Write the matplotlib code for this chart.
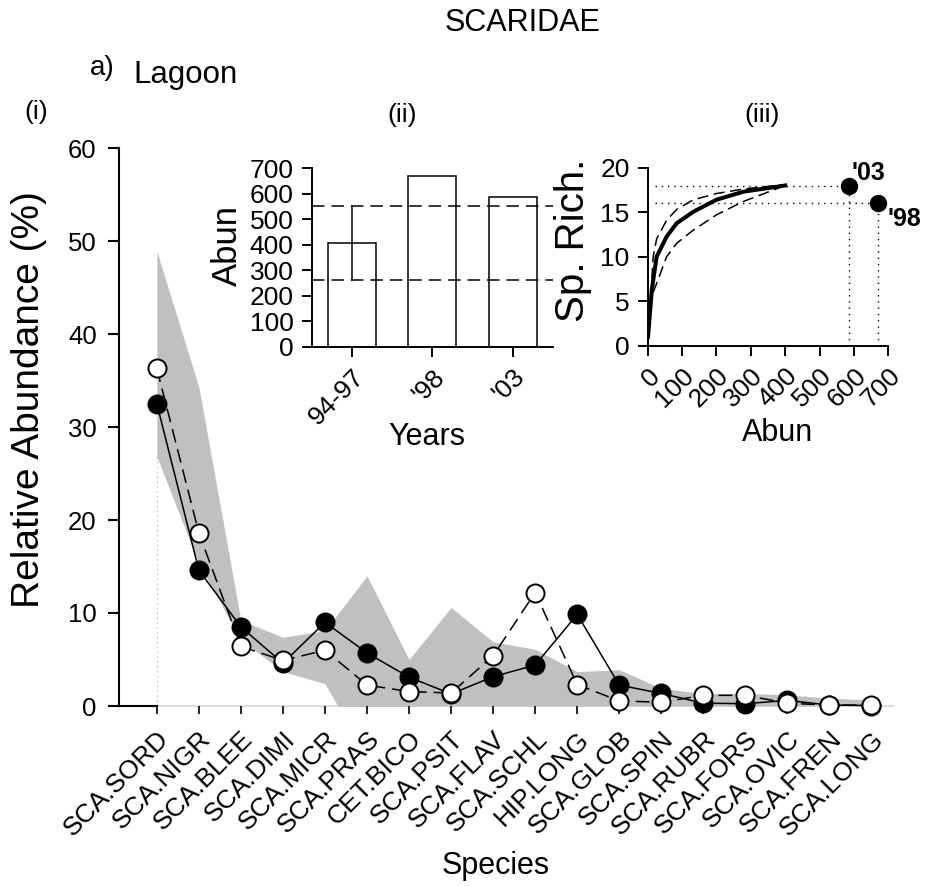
import matplotlib
matplotlib.use('Agg')
import matplotlib.pyplot as plt
import numpy as np

plt.rcParams['font.family'] = ['Liberation Sans', 'DejaVu Sans']
plt.rcParams['lines.scale_dashes'] = False

# ---------------- data ----------------
species = ['SCA.SORD', 'SCA.NIGR', 'SCA.BLEE', 'SCA.DIMI', 'SCA.MICR', 'SCA.PRAS',
           'CET.BICO', 'SCA.PSIT', 'SCA.FLAV', 'SCA.SCHL', 'HIP.LONG', 'SCA.GLOB',
           'SCA.SPIN', 'SCA.RUBR', 'SCA.FORS', 'SCA.OVIC', 'SCA.FREN', 'SCA.LONG']
series_filled = [32.5, 14.6, 8.5, 4.6, 9.0, 5.7, 3.1, 1.3, 3.15, 4.4, 9.85, 2.25,
                 1.35, 0.3, 0.25, 0.6, 0.1, 0.05]
series_open = [36.3, 18.6, 6.4, 4.9, 6.0, 2.25, 1.55, 1.4, 5.4, 12.2, 2.3, 0.55,
               0.4, 1.15, 1.15, 0.3, 0.1, 0.1]
band_upper = [48.9, 34.3, 9.2, 7.4, 8.1, 14.0, 5.0, 10.6, 6.9, 6.1, 3.7, 3.9,
              1.9, 1.35, 1.35, 1.2, 0.85, 0.65]
band_lower = [26.8, 15.3, 7.1, 3.7, 2.4, -5.5, 0, 0, 0, 0, 0, 0,
              0, 0, 0, 0, 0, 0]

years = ['94-97', "'98", "'03"]
year_abun = [405, 670, 586]
ref_low = 262
ref_high = 553

rare_abun = [1, 12, 26, 55, 84, 133, 200, 278, 400]
rare_mean = [1.0, 6.3, 10.0, 12.25, 13.75, 15.06, 16.4, 17.3, 18.0]
rare_up_abun = [12, 16, 26, 55, 84, 133, 200, 278, 400]
rare_up = [7.5, 10.0, 12.0, 14.1, 15.3, 16.4, 17.1, 17.6, 18.1]
rare_lo_abun = [16, 26, 55, 84, 133, 200, 278, 400]
rare_lo = [6.0, 7.0, 10.0, 11.5, 13.0, 14.7, 16.2, 18.0]

obs_labels = ["'03", "'98"]
obs_abun = [586, 670]
obs_rich = [18, 16]

# ---------------- figure ----------------
W, H = 927, 886
fig = plt.figure(figsize=(W / 100, H / 100), dpi=100)


def rect(x0, ytop, x1, ybot):
    return [x0 / W, 1 - ybot / H, (x1 - x0) / W, (ybot - ytop) / H]


# main panel
ax = fig.add_axes(rect(119, 148, 892.5, 706))
x = np.arange(len(species))
ax.set_xlim(-0.9, 17.5)
ax.set_ylim(0, 60)
ax.fill_between(x, band_lower, band_upper, color='#c0c0c0', lw=0, zorder=1)
ax.plot([x[0], x[0]], [0, band_lower[0]], color='#b4b4b4', ls=(0, (1, 2.5)), lw=0.8, zorder=1)
ax.plot([-0.9, 17.5], [0, 0], color='#d4d4d4', lw=1.2, zorder=0.5, clip_on=False)
ax.plot([-0.9, x[0]], [0, 0], color='black', lw=1.5, zorder=5, clip_on=False)
ax.plot(x, series_filled, '-', color='black', lw=1.1, marker='o', ms=13,
        mfc='black', mec='black', mew=1.4, zorder=3, clip_on=False)
ax.plot(x, series_open, color='black', lw=1.1, ls=(0, (10, 5)), marker='o', ms=13,
        mfc='white', mec='black', mew=1.4, zorder=4, clip_on=False)
for s in ['top', 'right', 'bottom']:
    ax.spines[s].set_visible(False)
ax.spines['left'].set_linewidth(1.5)
ax.set_yticks(np.arange(0, 61, 10))
ax.set_xticks(x)
ax.set_xticklabels(species, rotation=45, ha='right', va='top',
                   rotation_mode='anchor', fontsize=19)
ax.tick_params(axis='y', length=8, width=1.5, labelsize=18.5, pad=8)
ax.tick_params(axis='x', length=6, width=1.2, pad=9)
ax.patch.set_alpha(0)

# inset (ii)
ax2 = fig.add_axes(rect(311.7, 168.3, 553, 346.7))
ax2.set_xlim(-0.5, 2.5)
ax2.set_ylim(0, 700)
xi = np.arange(len(years))
ax2.bar(xi, year_abun, width=0.6, color='white', edgecolor='black', lw=1.1, zorder=2)
ax2.axhline(ref_low, ls=(0, (9, 5)), color='black', lw=1.1, zorder=3)
ax2.axhline(ref_high, ls=(0, (9, 5)), color='black', lw=1.1, zorder=3)
ax2.plot([xi[0], xi[0]], [ref_low, ref_high], color='black', lw=1.1, zorder=3)
for s in ['top', 'right']:
    ax2.spines[s].set_visible(False)
for s in ['left', 'bottom']:
    ax2.spines[s].set_linewidth(1.4)
ax2.set_yticks(np.arange(0, 701, 100))
ax2.set_xticks(xi)
ax2.set_xticklabels(years, rotation=45, ha='right', va='top', rotation_mode='anchor')
ax2.tick_params(axis='both', length=7, width=1.4, labelsize=19, pad=6)
ax2.patch.set_alpha(0)

# inset (iii)
ax3 = fig.add_axes(rect(647.7, 167.7, 888.3, 345.7))
ax3.set_xlim(0, 700)
ax3.set_ylim(0, 20)
ax3.plot(rare_abun, rare_mean, color='black', lw=2.9, zorder=3)
ax3.plot(rare_up_abun, rare_up, color='black', lw=1.1, ls=(0, (8, 4)), zorder=3)
ax3.plot(rare_lo_abun, rare_lo, color='black', lw=1.1, ls=(0, (8, 4)), zorder=3)
for a, r in zip(obs_abun, obs_rich):
    ax3.plot([20, a], [r, r], color='black', lw=1.0, ls=(0, (1, 3.5)), zorder=2)
    ax3.plot([a, a], [0, r], color='black', lw=1.0, ls=(0, (1, 3.5)), zorder=2)
ax3.plot(obs_abun, obs_rich, 'o', color='black', ms=11.5, zorder=5, clip_on=False)
offsets = [(2, 9), (7, -11)]
for lab, a, r, off in zip(obs_labels, obs_abun, obs_rich, offsets):
    ax3.annotate(lab, (a, r), xytext=off, textcoords='offset points',
                 ha='left', va='center', fontsize=18, fontweight='bold',
                 annotation_clip=False)
for s in ['top', 'right']:
    ax3.spines[s].set_visible(False)
for s in ['left', 'bottom']:
    ax3.spines[s].set_linewidth(1.4)
ax3.set_xticks(np.arange(0, 701, 100))
ax3.set_yticks(np.arange(0, 21, 5))
plt.setp(ax3.get_xticklabels(), rotation=45, ha='right', va='top', rotation_mode='anchor')
ax3.tick_params(axis='both', length=7, width=1.4, labelsize=19, pad=6)
ax3.patch.set_alpha(0)

# texts
fig.text(445 / W, 1 - 23 / H, 'SCARIDAE', ha='left', va='center', fontsize=22)
fig.text(90 / W, 1 - 75 / H, 'a)', ha='left', va='baseline', fontsize=20)
fig.text(133 / W, 1 - 83 / H, 'Lagoon', ha='left', va='baseline', fontsize=22.5)
fig.text(36 / W, 1 - 112 / H, '(i)', ha='center', va='center', fontsize=19)
fig.text(402 / W, 1 - 115 / H, '(ii)', ha='center', va='center', fontsize=19)
fig.text(762 / W, 1 - 115 / H, '(iii)', ha='center', va='center', fontsize=19)
fig.text(29 / W, 1 - 400 / H, 'Relative Abundance (%)', rotation=90,
         ha='center', va='center', fontsize=28)
fig.text(496 / W, 1 - 866 / H, 'Species', ha='center', va='center', fontsize=22)
fig.text(427 / W, 1 - 437 / H, 'Years', ha='center', va='center', fontsize=22)
fig.text(778 / W, 1 - 433 / H, 'Abun', ha='center', va='center', fontsize=22)
fig.text(227 / W, 1 - 245 / H, 'Abun', rotation=90, ha='center', va='center', fontsize=25)
fig.text(573 / W, 1 - 240 / H, 'Sp. Rich.', rotation=90, ha='center', va='center', fontsize=29)

fig.savefig('out.png', dpi=100)
